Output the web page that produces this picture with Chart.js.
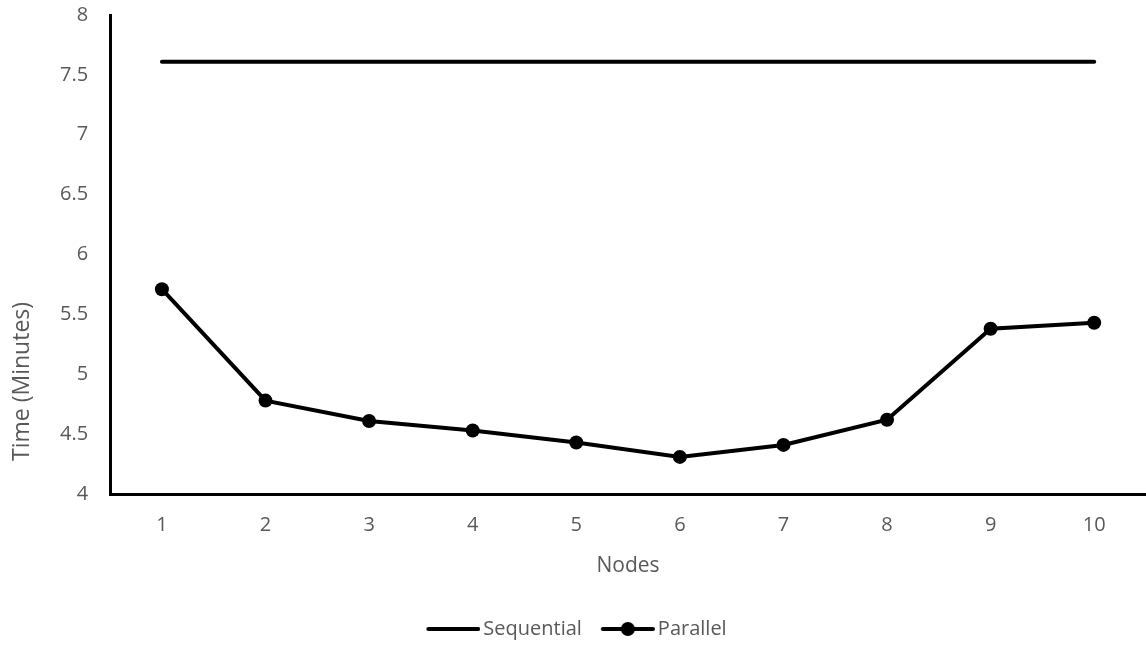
<!DOCTYPE html>
<html>
<head>
<meta charset="utf-8">
<script src="https://cdn.jsdelivr.net/npm/chart.js@4"></script>
<style>
  html, body { margin: 0; padding: 0; background: #fff; }
  #wrap { width: 1146px; height: 649px; }
</style>
</head>
<body>
<div id="wrap"><canvas id="timeChart"></canvas></div>
<script>
const nodes = ['1', '2', '3', '4', '5', '6', '7', '8', '9', '10'];
const sequential = [7.61, 7.61, 7.61, 7.61, 7.61, 7.61, 7.61, 7.61, 7.61, 7.61];
const parallel = [5.71, 4.78, 4.61, 4.53, 4.43, 4.31, 4.41, 4.62, 5.38, 5.43];
const yTicks = [4, 4.5, 5, 5.5, 6, 6.5, 7, 7.5, 8];

const grey = '#595959';
const font = "'Open Sans', sans-serif";
const yTitle = 'Time (Minutes)';

// legend icons: a plain line, and a line with a dot.
// drawn a bit wider than the legend box so the line sits close to its text
function legendIcon(withDot) {
  const c = document.createElement('canvas');
  c.width = 68; c.height = 16;
  const g = c.getContext('2d');
  g.strokeStyle = '#000';
  g.lineWidth = 4;
  g.lineCap = 'round';
  g.beginPath();
  g.moveTo(16, 8);
  g.lineTo(66, 8);
  g.stroke();
  if (withDot) {
    g.fillStyle = '#000';
    g.beginPath();
    g.arc(41, 8, 7, 0, Math.PI * 2);
    g.fill();
  }
  return c;
}
const icons = [legendIcon(false), legendIcon(true)];

// y axis title, placed low along the axis
const yTitlePlugin = {
  id: 'yTitle',
  afterDraw(chart) {
    const { ctx, chartArea } = chart;
    const y = chartArea.top + (chartArea.bottom - chartArea.top) * 0.765;
    ctx.save();
    ctx.translate(22, y);
    ctx.rotate(-Math.PI / 2);
    ctx.font = '23px ' + font;
    ctx.fillStyle = grey;
    ctx.textAlign = 'center';
    ctx.textBaseline = 'middle';
    ctx.fillText(yTitle, 0, 0);
    ctx.restore();
  }
};

const ctx = document.getElementById('timeChart');

new Chart(ctx, {
  type: 'line',
  data: {
    labels: nodes,
    datasets: [{
      label: 'Sequential',
      data: sequential,
      borderColor: '#000',
      borderWidth: 4,
      borderCapStyle: 'round',
      pointRadius: 0,
      tension: 0
    }, {
      label: 'Parallel',
      data: parallel,
      borderColor: '#000',
      backgroundColor: '#000',
      borderWidth: 4,
      pointRadius: 7,
      pointBackgroundColor: '#000',
      pointBorderWidth: 0,
      tension: 0
    }]
  },
  plugins: [yTitlePlugin],
  options: {
    responsive: true,
    maintainAspectRatio: false,
    animation: false,
    layout: { autoPadding: false, padding: { top: 0, right: 0, bottom: 0, left: 0 } },
    plugins: {
      tooltip: { enabled: false },
      legend: {
        position: 'bottom',
        labels: {
          usePointStyle: true,
          pointStyleWidth: 54,
          color: grey,
          padding: 12,
          font: { family: font, size: 20 },
          generateLabels(chart) {
            return chart.data.datasets.map((ds, i) => ({
              text: ds.label,
              pointStyle: icons[i],
              fillStyle: '#000',
              strokeStyle: '#000',
              lineWidth: 0,
              fontColor: grey,
              datasetIndex: i
            }));
          }
        }
      }
    },
    scales: {
      x: {
        offset: true,
        afterFit(axis) {
          axis.paddingLeft = 0;
          axis.paddingRight = 0;
        },
        grid: { display: false, drawTicks: false },
        border: { display: true, color: '#000', width: 3 },
        ticks: { color: grey, padding: 19, font: { family: font, size: 20 } },
        title: {
          display: true,
          text: 'Nodes',
          color: grey,
          padding: { top: 0, bottom: 30 },
          font: { family: font, size: 21, lineHeight: 1 }
        }
      },
      y: {
        min: 4,
        max: 8,
        afterBuildTicks(axis) {
          axis.ticks = yTicks.map(v => ({ value: v }));
        },
        afterFit(axis) {
          axis.paddingTop = 15;
          axis.width += 38;
        },
        grid: { display: false, drawTicks: false },
        border: { display: true, color: '#000', width: 3 },
        ticks: {
          color: grey,
          padding: 22,
          font: { family: font, size: 20 },
          callback: v => String(v)
        }
      }
    }
  }
});
</script>
</body>
</html>
